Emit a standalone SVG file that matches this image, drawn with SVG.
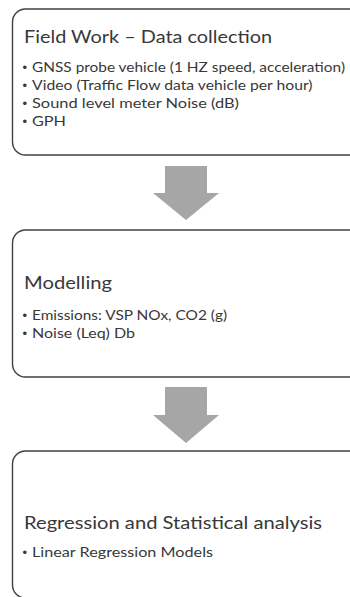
<svg xmlns="http://www.w3.org/2000/svg" width="350" height="597" viewBox="0 0 350 597">
<style>
.box{fill:#ffffff;stroke:#404040;stroke-width:1.4}
.arrow{fill:#a6a6a6;stroke:none}
.title{font-family:Lato,"Open Sans","Liberation Sans",sans-serif;font-size:18px;fill:#383838}
.item{font-family:Lato,"Open Sans","Liberation Sans",sans-serif;font-size:14px;fill:#383838}
.bul{font-family:"Liberation Sans",Arial,sans-serif;font-size:13px;fill:#383838}
</style>
<rect width="350" height="597" fill="#ffffff"/>
<g id="connectors">
<polygon class="arrow" points="165,166 207,166 207,193 219,193 186,220 153,193 165,193"/>
<polygon class="arrow" points="165,387 207,387 207,415 219,415 186,443 153,415 165,415"/>
</g>
<g id="node-fieldwork">
<rect class="box" x="12.5" y="9" width="360" height="146" rx="13"/>
<text class="title" x="24" y="42.5" textLength="248" lengthAdjust="spacingAndGlyphs">Field Work – Data collection</text>
<text class="bul" x="22.5" y="71.5">•</text>
<text class="item" x="32" y="71.5" textLength="313" lengthAdjust="spacingAndGlyphs">GNSS probe vehicle (1 HZ speed, acceleration)</text>
<text class="bul" x="22.5" y="89.5">•</text>
<text class="item" x="32" y="89.5" textLength="280.5" lengthAdjust="spacingAndGlyphs">Video (Traffic Flow data vehicle per hour)</text>
<text class="bul" x="22.5" y="107.5">•</text>
<text class="item" x="32" y="107.5" textLength="207" lengthAdjust="spacingAndGlyphs">Sound level meter Noise (dB)</text>
<text class="bul" x="22.5" y="125.5">•</text>
<text class="item" x="32" y="125.5" textLength="34" lengthAdjust="spacingAndGlyphs">GPH</text>
</g>
<g id="node-modelling">
<rect class="box" x="12.5" y="230" width="360" height="147" rx="13"/>
<text class="title" x="24" y="289" textLength="88" lengthAdjust="spacingAndGlyphs">Modelling</text>
<text class="bul" x="22.5" y="320">•</text>
<text class="item" x="32" y="320" textLength="195" lengthAdjust="spacingAndGlyphs">Emissions: VSP NOx, CO2 (g)</text>
<text class="bul" x="22.5" y="338">•</text>
<text class="item" x="32" y="338" textLength="103" lengthAdjust="spacingAndGlyphs">Noise (Leq) Db</text>
</g>
<g id="node-regression">
<rect class="box" x="12.5" y="451" width="360" height="147" rx="13"/>
<text class="title" x="24" y="529" textLength="298" lengthAdjust="spacingAndGlyphs">Regression and Statistical analysis</text>
<text class="bul" x="22.5" y="557">•</text>
<text class="item" x="32" y="557" textLength="181" lengthAdjust="spacingAndGlyphs">Linear Regression Models</text>
</g>
</svg>
